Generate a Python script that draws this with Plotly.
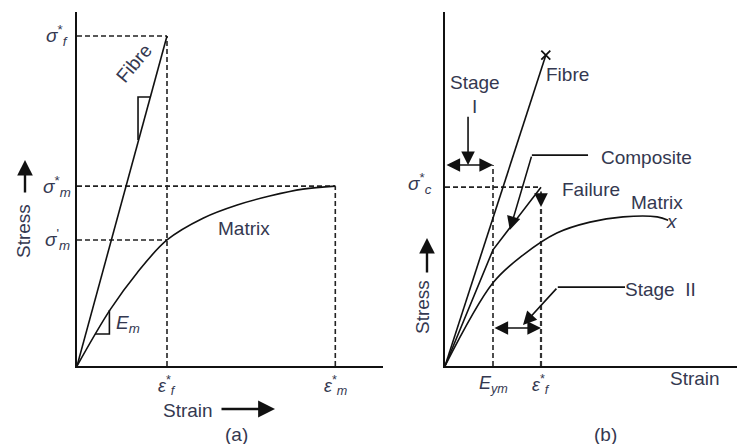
import plotly.graph_objects as go

W, H = 737, 444
FONT = "Liberation Sans, Arial, sans-serif"
TXT = "#343850"

# ---------------- data: panel (a) ----------------
EPS_F_A = 1.0      # fibre failure strain
EPS_M_A = 2.87     # matrix failure strain
SIG_F_A = 10.0     # fibre strength
SIG_M_A = 5.45     # matrix strength
SIG_MP_A = 3.82    # matrix stress at fibre failure strain
FIBRE_A_STRAIN = [0, EPS_F_A]
FIBRE_A_STRESS = [0, SIG_F_A]
MATRIX_A_STRAIN = [0, 0.367, 0.667, 1.0, 1.4, 1.78, 2.14, 2.51, 2.87]
MATRIX_A_STRESS = [0, 1.70, 2.82, 3.82, 4.48, 4.88, 5.15, 5.36, 5.45]
FIBRE_TRI_X = [0.678, 0.678, 0.822]
FIBRE_TRI_Y = [6.85, 8.15, 8.15]
EM_TRI_X = [0.20, 0.36, 0.36]
EM_TRI_Y = [0.97, 0.97, 1.70]
A_YTICKS = [SIG_MP_A, SIG_M_A, SIG_F_A]
A_YLABELS = ["<i>σ</i><sup>'</sup><sub><i>m</i></sub>", "<i>σ</i><sup>*</sup><sub><i>m</i></sub>",
             "<i>σ</i><sup>*</sup><sub><i>f</i></sub>"]
A_XTICKS = [EPS_F_A, EPS_M_A]
A_XLABELS = ["<i>ε</i><sup>*</sup><sub><i>f</i></sub>", "<i>ε</i><sup>*</sup><sub><i>m</i></sub>"]

# ---------------- data: panel (b) ----------------
E_YM = 1.0
EPS_F_B = 2.0
SIG_C_B = 5.42
FIBRE_B_STRAIN = [0, 2.10]
FIBRE_B_STRESS = [0, 9.42]
COMP_B_STRAIN = [0, E_YM, EPS_F_B]
COMP_B_STRESS = [0, 3.52, SIG_C_B]
MATRIX_B_STRAIN = [0, 1.0, 1.625, 2.33, 3.02, 3.71, 4.42, 4.65]
MATRIX_B_STRESS = [0, 2.52, 3.36, 4.03, 4.36, 4.52, 4.52, 4.42]
STAGE_I_Y = 6.09
STAGE_II_Y = 1.15
FAIL_TOP, FAIL_HEAD = 5.33, 4.82
COMP_PTR_X = [2.98, 1.81]
COMP_PTR_Y = [6.39, 6.39]
COMP_PTR_HEAD = (1.35, 4.12)
ST2_PTR_X = [3.75, 2.35]
ST2_PTR_Y = [2.39, 2.39]
ST2_PTR_HEAD = (1.625, 1.24)
STAGE_I_ARROW = (0.48, 7.6)
B_XTICKS = [E_YM, EPS_F_B]
B_XLABELS = ["<i>E</i><sub><i>ym</i></sub>", "<i>ε</i><sup>*</sup><sub><i>f</i></sub>"]
B_YTICKS = [SIG_C_B]
B_YLABELS = ["<i>σ</i><sup>*</sup><sub><i>c</i></sub>"]


def px(x):
    return x / W


def py(y):
    return 1 - y / H


fig = go.Figure()
solid = dict(color="#111", width=1.6)
dash = dict(color="#222", width=1.6, dash="5px,3px")


def line(xs, ys, ln, ax="a", **kw):
    xa, ya = ("x", "y") if ax == "a" else ("x2", "y2")
    fig.add_trace(go.Scatter(x=xs, y=ys, mode="lines", line=ln, xaxis=xa, yaxis=ya,
                             hoverinfo="skip", showlegend=False, **kw))


# panel (a)
line([0, EPS_F_A], [SIG_F_A, SIG_F_A], dash)
line([EPS_F_A, EPS_F_A], [0, SIG_F_A], dash)
line([0, EPS_M_A], [SIG_M_A, SIG_M_A], dash)
line([EPS_M_A, EPS_M_A], [0, SIG_M_A], dash)
line([0, EPS_F_A], [SIG_MP_A, SIG_MP_A], dash)
line(FIBRE_A_STRAIN, FIBRE_A_STRESS, solid)
line(MATRIX_A_STRAIN, MATRIX_A_STRESS, dict(color="#111", width=1.6, shape="spline", smoothing=1.0))
line(FIBRE_TRI_X, FIBRE_TRI_Y, solid)
line(EM_TRI_X, EM_TRI_Y, solid)

# panel (b)
line([0, EPS_F_B], [SIG_C_B, SIG_C_B], dash, "b")
line([E_YM, E_YM], [0, STAGE_I_Y], dash, "b")
line([EPS_F_B, EPS_F_B], [0, FAIL_HEAD], dict(color="#333", width=2.2, dash="5px,3px"), "b")
line(FIBRE_B_STRAIN, FIBRE_B_STRESS, solid, "b")
fig.add_trace(go.Scatter(x=[FIBRE_B_STRAIN[-1]], y=[FIBRE_B_STRESS[-1]], mode="markers",
                         marker=dict(symbol="x-thin", size=9, line=dict(color="#111", width=1.8)),
                         xaxis="x2", yaxis="y2", hoverinfo="skip", showlegend=False))
line(COMP_B_STRAIN, COMP_B_STRESS, solid, "b")
line(MATRIX_B_STRAIN, MATRIX_B_STRESS, dict(color="#111", width=1.6, shape="spline", smoothing=1.0), "b")
line(COMP_PTR_X, COMP_PTR_Y, solid, "b")
line(ST2_PTR_X, ST2_PTR_Y, solid, "b")

ann = []


def text(t, x, y, size=19, angle=0, xref="paper", yref="paper", xshift=0, yshift=0, xanchor="center"):
    ann.append(dict(text=t, x=x, y=y, xref=xref, yref=yref, showarrow=False, textangle=angle,
                    font=dict(family=FONT, size=size, color=TXT), xanchor=xanchor, yanchor="middle",
                    xshift=xshift, yshift=yshift))


def arrow(hx, hy, tx, ty, xref, yref, side="end", width=1.6, size=1.7):
    if xref == "paper":
        d = dict(x=hx, y=hy, ax=(tx - hx) * W, ay=-(ty - hy) * H, axref="pixel", ayref="pixel")
    else:
        d = dict(x=hx, y=hy, ax=tx, ay=ty, axref=xref, ayref=yref)
    d.update(xref=xref, yref=yref, showarrow=True, arrowhead=2, arrowsize=size, arrowwidth=width,
             arrowcolor="#111", arrowside=side, text="", standoff=0, startstandoff=0)
    ann.append(d)


# tick-like labels (a)
for v, t in zip(A_YTICKS, A_YLABELS):
    text(t, 0, v, size=19, xref="x", yref="y", xshift=-20)
for v, t in zip(A_XTICKS, A_XLABELS):
    text(t, v, 0, size=18, xref="x", yref="y", yshift=-19)
for v, t in zip(B_XTICKS, B_XLABELS):
    text(t, v, 0, size=18, xref="x2", yref="y2", yshift=-18)
for v, t in zip(B_YTICKS, B_YLABELS):
    text(t, 0, v, size=19, xref="x2", yref="y2", xshift=-25, yshift=4)

# panel (a) labels
text("Stress", px(23), py(231), angle=-90)
text("Fibre", px(134), py(64), angle=-50)
text("Matrix", px(244), py(229))
text("<i>E</i><sub><i>m</i></sub>", px(128), py(324))
text("Strain", px(188), py(410))
text("(a)", px(236), py(434))
# panel (b) labels
text("Stress", px(422), py(307), angle=-90)
text("Fibre", px(567), py(75))
text("Stage", px(475), py(82))
text("I", px(475), py(107))
text("Composite", px(646), py(157))
text("Failure", px(591), py(189))
text("Matrix", px(657), py(202))
text("<i>x</i>", px(672), py(221))
text("Stage  II", px(660), py(289))
text("Strain", px(695), py(378))
text("(b)", px(605), py(434))

# arrows in paper coordinates
arrow(px(25), py(160), px(25), py(194), "paper", "paper", width=2.4, size=1.3)
arrow(px(275), py(409), px(220), py(409), "paper", "paper", width=2.6, size=1.3)
arrow(px(427), py(238), px(427), py(274), "paper", "paper", width=2.4, size=1.3)
# arrows in data coordinates (b)
arrow(E_YM, STAGE_I_Y, 0, STAGE_I_Y, "x2", "y2", side="end+start")
arrow(STAGE_I_ARROW[0], STAGE_I_Y, STAGE_I_ARROW[0], STAGE_I_ARROW[1], "x2", "y2")
arrow(EPS_F_B, FAIL_HEAD, EPS_F_B, FAIL_TOP, "x2", "y2")
arrow(EPS_F_B, STAGE_II_Y, E_YM, STAGE_II_Y, "x2", "y2", side="end+start")
arrow(COMP_PTR_HEAD[0], COMP_PTR_HEAD[1], COMP_PTR_X[-1], COMP_PTR_Y[-1], "x2", "y2")
arrow(ST2_PTR_HEAD[0], ST2_PTR_HEAD[1], ST2_PTR_X[-1], ST2_PTR_Y[-1], "x2", "y2")

axis_common = dict(showgrid=False, zeroline=False, showticklabels=False, ticks="",
                   showline=True, linecolor="#111", linewidth=2)
y_dom = [py(366), py(12)]
fig.update_layout(
    width=W, height=H, margin=dict(l=0, r=0, t=0, b=0),
    paper_bgcolor="white", plot_bgcolor="white", showlegend=False,
    xaxis=dict(domain=[px(77), px(383)], range=[0, 3.4], **axis_common),
    yaxis=dict(domain=y_dom, range=[0, 354 / 33], **axis_common),
    xaxis2=dict(domain=[px(445), 1.0], range=[0, 292 / 48], anchor="y2", **axis_common),
    yaxis2=dict(domain=y_dom, range=[0, 354 / 33], anchor="x2", **axis_common),
    annotations=ann,
)
fig.write_html("out.html", config={"displayModeBar": False},
               post_script="document.body.style.margin='0';document.body.style.overflow='hidden';")
